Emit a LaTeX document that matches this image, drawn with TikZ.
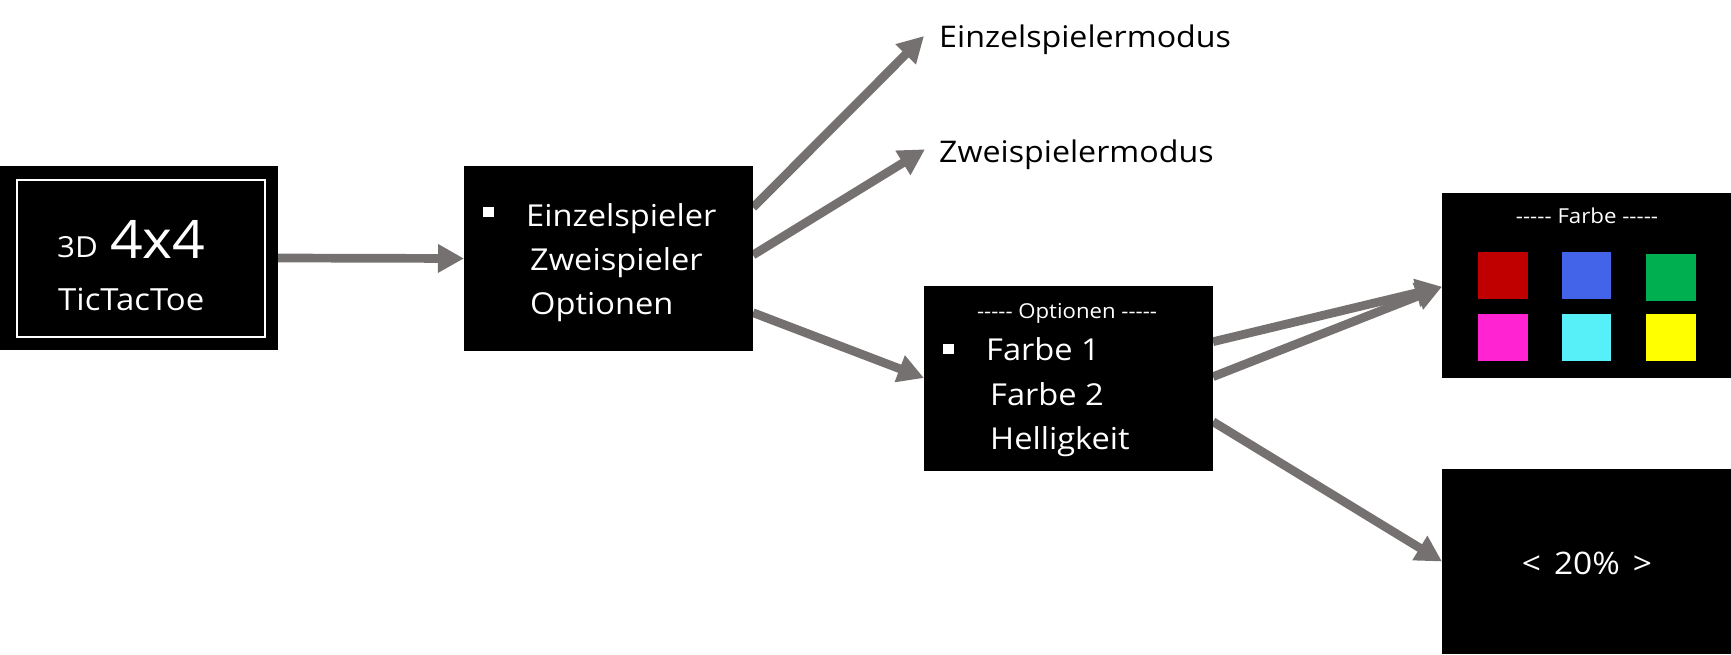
\documentclass[tikz,border=0pt]{standalone}
\usepackage{fontspec}
\setmainfont{Open Sans}[FakeStretch=1.08,Ligatures=TeXOff]
\usetikzlibrary{arrows.meta,calc}
\definecolor{arrowgrey}{HTML}{767171}
\definecolor{sqred}{HTML}{C00000}
\definecolor{sqblue}{HTML}{4363E8}
\definecolor{sqgreen}{HTML}{00B050}
\definecolor{sqmagenta}{HTML}{FF23D2}
\definecolor{sqcyan}{HTML}{57F0F8}
\definecolor{sqyellow}{HTML}{FFFF00}
\newcommand\setfs[1]{\fontsize{#1}{#1}\selectfont}
\pgfdeclarelayer{bg}
\pgfsetlayers{bg,main}
\begin{document}
\begin{tikzpicture}[x=1pt,y=-1pt,
  screen/.style={fill=black,minimum width=289pt,minimum height=185pt,inner sep=0pt,outer sep=0pt},
  flow/.style={arrowgrey,line width=8.7pt,-{Triangle[length=26pt,width=27pt]}},
  wtxt/.style={text=white,inner sep=0pt,anchor=base west},
  btxt/.style={text=black,inner sep=0pt,anchor=base west},
  bulletsq/.style={fill=white,minimum width=11pt,minimum height=10pt,inner sep=0pt},
  colsq/.style={minimum width=50pt,minimum height=47pt,inner sep=0pt}
]
\useasboundingbox (0,0) rectangle (1731,654);

% start screen
\node[screen,minimum width=278pt,minimum height=184pt] (b1) at (139,258) {};
\node[draw=white,line width=2pt,minimum width=248pt,minimum height=157pt,inner sep=0pt] (b1in) at (141,258.5) {};
\node[wtxt,font=\setfs{29}] (t3d) at (57,257) {3D};
\node[wtxt,font=\setfs{53}] (t44) at (110,258) {4x4};
\node[wtxt,font=\setfs{30.5}] (ttt) at (58,310) {TicTacToe};

% main menu
\node[screen] (b2) at (608.5,258.5) {};
\node[bulletsq] (bu1) at (488.5,212) {};
\node[wtxt,font=\setfs{30.2}] (m1) at (526,226) {Einzelspieler};
\node[wtxt,font=\setfs{30.2}] (m2) at (530,270) {Zweispieler};
\node[wtxt,font=\setfs{30.2}] (m3) at (530,314) {Optionen};

% mode labels
\node[btxt,font=\setfs{29.8}] (em) at (939,47) {Einzelspielermodus};
\node[btxt,font=\setfs{29.8}] (zm) at (939,162) {Zweispielermodus};

% options menu
\node[screen] (b3) at (1068.5,378) {};
\node[text=white,inner sep=0pt,anchor=base,font=\setfs{20.5}] (oh) at (1067,318) {----- Optionen -----};
\node[bulletsq] (bu2) at (948.5,348.5) {};
\node[wtxt,font=\setfs{30.2}] (o1) at (986,360) {Farbe 1};
\node[wtxt,font=\setfs{30.2}] (o2) at (990,405) {Farbe 2};
\node[wtxt,font=\setfs{30.2}] (o3) at (990,449) {Helligkeit};

% colour screen
\node[screen] (b4) at (1586.5,285) {};
\node[text=white,inner sep=0pt,anchor=base,font=\setfs{20.6}] (fh) at (1587,223) {----- Farbe -----};
\node[colsq,fill=sqred] (c1) at (1503,275.5) {};
\node[colsq,fill=sqblue,minimum width=49pt] (c2) at (1586.5,275.5) {};
\node[colsq,fill=sqgreen] (c3) at (1671,277) {};
\node[colsq,fill=sqmagenta] (c4) at (1503,337.5) {};
\node[colsq,fill=sqcyan,minimum width=49pt] (c5) at (1586.5,337.5) {};
\node[colsq,fill=sqyellow] (c6) at (1671,337.5) {};

% brightness screen
\node[screen] (b5) at (1586.5,561.5) {};
\node[text=white,inner sep=0pt,anchor=base,font=\setfs{31}] (br) at (1587,574) {<\hspace{13pt}20\%\hspace{13pt}>};

% connector end points
\coordinate (tipE) at (924,36);
\coordinate (tipZ) at (925,149.3);

\begin{pgfonlayer}{bg}
\draw[flow] (b1.east) -- (b2.west);
\draw[flow] ([yshift=51pt]b2.east) -- (tipE);
\draw[flow] ([yshift=3.5pt]b2.east) -- (tipZ);
\draw[flow] ([yshift=-54.2pt]b2.east) -- (b3.west);
\draw[flow] ([yshift=36.3pt]b3.east) -- ([yshift=-1.7pt]b4.west);
\draw[flow] ([yshift=1.3pt]b3.east) -- ([yshift=-1.7pt]b4.west);
\draw[flow] ([yshift=-43.7pt]b3.east) -- (b5.west);
\end{pgfonlayer}
\end{tikzpicture}
\end{document}
